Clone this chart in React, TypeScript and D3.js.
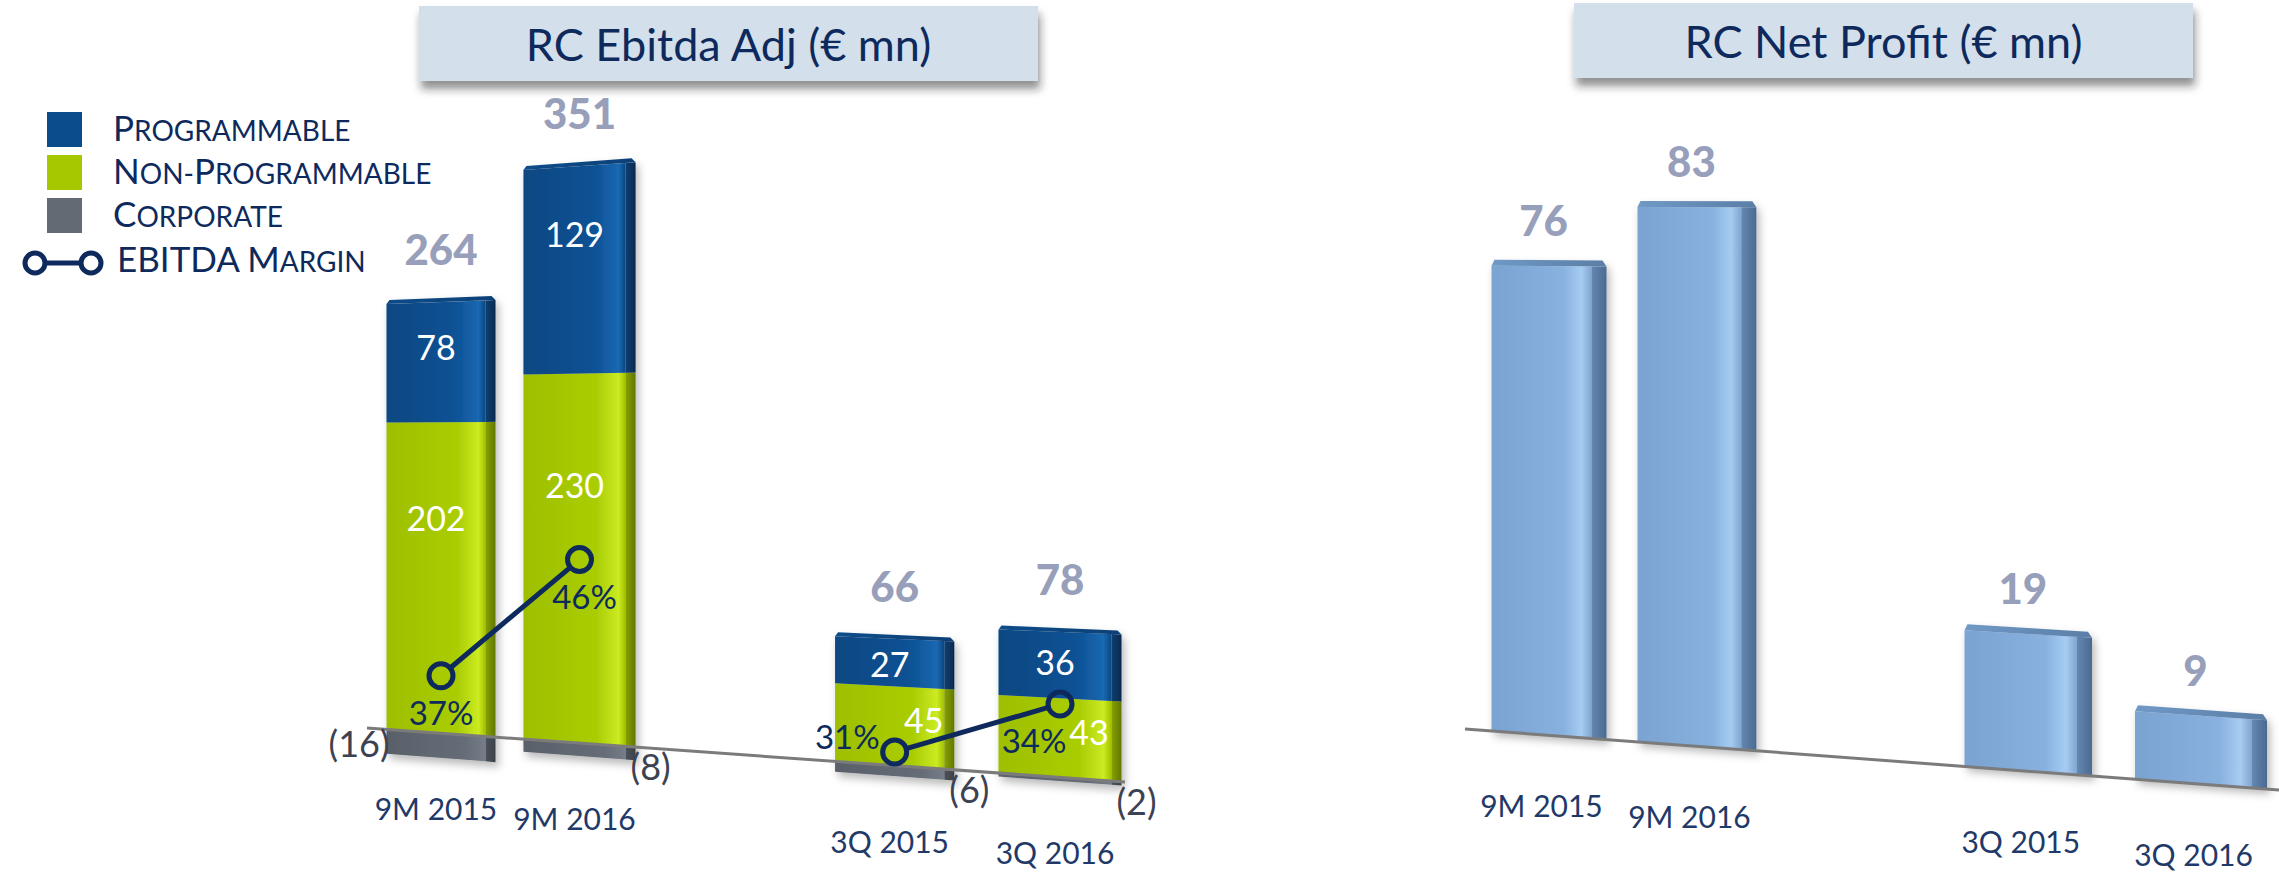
import React from 'react';
import * as d3 from 'd3';

// ---------- data ----------
const categories = ['9M 2015', '9M 2016', '3Q 2015', '3Q 2016'];
const periodGroups = ['9M', '9M', '3Q', '3Q'];
const slotIndex = [0, 1, 3, 4]; // slot 2 is the gap between the 9M and 3Q groups
const programmable = [78, 129, 27, 36];
const nonProgrammable = [202, 230, 45, 43];
const corporate = [-16, -8, -6, -2];
const ebitdaTotals = [264, 351, 66, 78];
const ebitdaMargin = [37, 46, 31, 34];
const netProfit = [76, 83, 19, 9];
const legendItems = ['Programmable', 'Non-Programmable', 'Corporate'];
const legendLineLabel = 'EBITDA Margin';
const titles = ['RC Ebitda Adj (€ mn)', 'RC Net Profit (€ mn)'];

const COL = {
  blue: '#0b4d8c',
  green: '#a6c800',
  grey: '#646a73',
  navy: '#0e2a5c',
  total: '#989fba',
  corpText: '#3d4252',
  axis: '#7b7b7b',
  titleBg: '#d3dfeb',
};

const FONT = "Lato, 'Noto Sans', 'DejaVu Sans', sans-serif";

type Sc = {
  x: d3.ScalePower<number, number>;
  width: d3.ScaleLinear<number, number>;
  base: d3.ScaleLinear<number, number>;
  unit: d3.ScaleLinear<number, number>;
  persp: number;
  side: number;
  top: number;
};

const leftSc: Sc = {
  x: d3.scalePow().exponent(1.08).domain([0, 4]).range([441, 1060]),
  width: d3.scaleLinear().domain([441, 1060]).range([109, 123]),
  base: d3.scaleLinear().domain([367, 1125]).range([728, 782]),
  unit: d3.scaleLinear().domain([441, 1060]).range([1.54, 1.84]),
  persp: 0.8,
  side: 10,
  top: 4,
};

const rightSc: Sc = {
  x: d3.scalePow().exponent(1.07).domain([0, 4]).range([1549, 2201]),
  width: d3.scaleLinear().domain([1549, 2201]).range([115, 132]),
  base: d3.scaleLinear().domain([1465, 2279]).range([729, 790]),
  unit: d3.scaleLinear().domain([1543, 2200]).range([6.16, 7.6]),
  persp: 0.4,
  side: 15,
  top: 6,
};

// secondary (margin %) axes, one per period group
const marginScales: Record<string, d3.ScaleLinear<number, number>> = {
  '9M': d3.scaleLinear().domain([0, 50]).range([1153, 508]),
  '3Q': d3.scaleLinear().domain([0, 50]).range([1248, 448]),
};

const geom = (s: Sc, i: number) => {
  const cx = s.x(slotIndex[i]);
  const w = s.width(cx);
  const xl = cx - w / 2;
  const xr = cx + w / 2;
  const xs = xr - s.side;
  return { cx, xl, xr, xs, fc: (xl + xs) / 2 };
};
// projected y of value v at screen x, for the bar centred at cx
const yAt = (s: Sc, cx: number, x: number, v: number) => s.base(x) - s.unit(cx + s.persp * (x - cx)) * v;

const lineGen = d3.line();
const quad = (s: Sc, cx: number, x0: number, x1: number, v0: number, v1: number) =>
  lineGen([
    [x0, yAt(s, cx, x0, v0)],
    [x1, yAt(s, cx, x1, v0)],
    [x1, yAt(s, cx, x1, v1)],
    [x0, yAt(s, cx, x0, v1)],
  ]) + 'Z';
const topCap = (s: Sc, cx: number, xl: number, xr: number, v: number) =>
  lineGen([
    [xl, yAt(s, cx, xl, v)],
    [xl + 3, yAt(s, cx, xl, v) - s.top],
    [xr - 4, yAt(s, cx, xr, v) - s.top],
    [xr, yAt(s, cx, xr, v)],
  ]) + 'Z';

function Segment({ s, i, v0, v1, kind, cap }: any) {
  const g = geom(s, i);
  return (
    <g>
      <path d={quad(s, g.cx, g.xl, g.xs, v0, v1)} fill={`url(#${kind}Front)`} />
      <path d={quad(s, g.cx, g.xs, g.xr, v0, v1)} fill={`url(#${kind}Side)`} />
      {cap && <path d={topCap(s, g.cx, g.xl, g.xr, v1)} fill={`url(#${kind}Top)`} />}
    </g>
  );
}

function SmallCaps({ x, y, text, big, small }: any) {
  const parts = Array.from(text as string).map((ch, k) => {
    const isUpper = ch !== ch.toLowerCase();
    return (
      <tspan key={k} fontSize={isUpper ? big : small}>
        {ch.toUpperCase()}
      </tspan>
    );
  });
  return (
    <text x={x} y={y} fill={COL.navy}>
      {parts}
    </text>
  );
}

function TitleBox({ x, y, w, h, text }: any) {
  return (
    <g>
      <rect x={x} y={y} width={w} height={h} fill={COL.titleBg} filter="url(#titleShadow)" />
      <text x={x + w / 2} y={y + h - 20} textAnchor="middle" fontSize={45} fill={COL.navy} fontFamily={FONT}>
        {text}
      </text>
    </g>
  );
}

function grad(id: string, stops: [number, string][]) {
  return (
    <linearGradient id={id} x1="0" y1="0" x2="1" y2="0">
      {stops.map(([o, c], k) => (
        <stop key={k} offset={o} stopColor={c} />
      ))}
    </linearGradient>
  );
}

export default function App() {
  const W = 2279;
  const H = 878;
  const r = 12;

  // margin points
  const mPts = ebitdaMargin.map((m, i) => [geom(leftSc, i).cx, marginScales[periodGroups[i]](m)] as [number, number]);
  const mSegs: [number, number, number, number][] = [];
  for (let i = 1; i < mPts.length; i++) {
    if (periodGroups[i] !== periodGroups[i - 1]) continue;
    const [x0, y0] = mPts[i - 1];
    const [x1, y1] = mPts[i];
    const d = Math.hypot(x1 - x0, y1 - y0);
    const ux = (x1 - x0) / d;
    const uy = (y1 - y0) / d;
    mSegs.push([x0 + ux * r, y0 + uy * r, x1 - ux * r, y1 - uy * r]);
  }

  const lDom = leftSc.base.domain();
  const rDom = rightSc.base.domain();

  return (
    <svg width={W} height={H} style={{ position: 'absolute', left: 0, top: 0, background: '#fff' }} fontFamily={FONT}>
      <defs>
        <filter id="titleShadow" x="-5%" y="-20%" width="110%" height="160%">
          <feDropShadow dx="2" dy="8" stdDeviation="4" floodColor="#222" floodOpacity="0.5" />
        </filter>
        <filter id="barShadow" x="-20%" y="-10%" width="140%" height="130%">
          <feDropShadow dx="3" dy="5" stdDeviation="4" floodColor="#000" floodOpacity="0.28" />
        </filter>
        {grad('blueFront', [[0, '#0a4781'], [0.7, '#0d5295'], [0.93, '#1a68b2'], [1, '#0a4680']])}
        {grad('blueSide', [[0, '#0a3f72'], [1, '#062a4f']])}
        {grad('blueTop', [[0, '#0b4c8a'], [1, '#0a4077']])}
        {grad('greenFront', [[0, '#9dbf00'], [0.72, '#aacd05'], [0.93, '#cbeb22'], [1, '#a2c000']])}
        {grad('greenSide', [[0, '#86a200'], [1, '#627700']])}
        {grad('greenTop', [[0, '#b4d40a'], [1, '#9ab400']])}
        {grad('greyFront', [[0, '#596069'], [0.8, '#666d78'], [1, '#757d89']])}
        {grad('greySide', [[0, '#4c525a'], [1, '#3c4148']])}
        {grad('greyTop', [[0, '#666d78'], [1, '#555b63']])}
        {grad('lightFront', [[0, '#7ba3d2'], [0.72, '#88b1df'], [0.9, '#a6ccf2'], [1, '#80a6d0']])}
        {grad('lightSide', [[0, '#6488b2'], [1, '#4a6a91']])}
        {grad('lightTop', [[0, '#7099c6'], [1, '#5a7ea6']])}
      </defs>

      {/* titles */}
      <TitleBox x={419} y={6} w={619} h={75} text={titles[0]} />
      <TitleBox x={1574} y={3} w={619} h={75} text={titles[1]} />

      {/* legend */}
      <g>
        {legendItems.map((t, k) => (
          <g key={t}>
            <rect x={47} y={112 + k * 43} width={35} height={35} fill={[COL.blue, COL.green, COL.grey][k]} />
            <SmallCaps x={113} y={141 + k * 43} text={t} big={35} small={28} />
          </g>
        ))}
        <line x1={45} x2={81} y1={263} y2={263} stroke={COL.navy} strokeWidth={5} />
        <circle cx={35} cy={263} r={10} fill="#fff" stroke={COL.navy} strokeWidth={5} />
        <circle cx={91} cy={263} r={10} fill="#fff" stroke={COL.navy} strokeWidth={5} />
        <SmallCaps x={117} y={272} text={legendLineLabel} big={35} small={28} />
      </g>

      {/* ---------- left chart: EBITDA ---------- */}
      <g filter="url(#barShadow)">
        {categories.map((c, i) => (
          <g key={c}>
            <Segment s={leftSc} i={i} v0={corporate[i]} v1={0} kind="grey" cap={false} />
            <Segment s={leftSc} i={i} v0={0} v1={nonProgrammable[i]} kind="green" cap={false} />
            <Segment
              s={leftSc}
              i={i}
              v0={nonProgrammable[i]}
              v1={nonProgrammable[i] + programmable[i]}
              kind="blue"
              cap={true}
            />
          </g>
        ))}
      </g>
      <line
        x1={lDom[0]}
        y1={leftSc.base(lDom[0])}
        x2={lDom[1]}
        y2={leftSc.base(lDom[1])}
        stroke={COL.axis}
        strokeWidth={3}
      />

      {categories.map((c, i) => {
        const g = geom(leftSc, i);
        const k = leftSc.unit(g.cx);
        const np = nonProgrammable[i];
        const tot = np + programmable[i];
        const topY = yAt(leftSc, g.cx, g.cx, tot);
        const midY = yAt(leftSc, g.cx, g.cx, np);
        const greenLab = 25 + 0.27 * k * np;
        const blueLab = 25 + 0.27 * k * programmable[i];
        const shiftGreen = periodGroups[i] === '3Q' ? 34 : 0;
        const firstBar = i === 0;
        return (
          <g key={c}>
            <text x={g.cx} y={topY - 37} textAnchor="middle" fontSize={42} fontWeight={900} fill={COL.total}>
              {ebitdaTotals[i]}
            </text>
            <text x={g.fc} y={topY + blueLab} textAnchor="middle" fontSize={34} fill="#fff">
              {programmable[i]}
            </text>
            <text x={g.fc + shiftGreen} y={midY + greenLab} textAnchor="middle" fontSize={34} fill="#fff">
              {np}
            </text>
            <text
              x={firstBar ? g.xl + 3 : g.xr - 5}
              y={firstBar ? leftSc.base(g.xl) + 28 : leftSc.base(g.xr) + 33}
              textAnchor={firstBar ? 'end' : 'start'}
              fontSize={36}
              fill={COL.corpText}
            >
              {`(${Math.abs(corporate[i])})`}
            </text>
            <text x={g.fc} y={leftSc.base(g.cx) + 87} textAnchor="middle" fontSize={30} fill="#1f3a68">
              {c}
            </text>
          </g>
        );
      })}

      {/* margin line */}
      {mSegs.map((s, k) => (
        <line key={k} x1={s[0]} y1={s[1]} x2={s[2]} y2={s[3]} stroke={COL.navy} strokeWidth={5} />
      ))}
      {mPts.map(([x, y], i) => {
        const is3Q = periodGroups[i] === '3Q';
        const leftSide = is3Q && i > 0 && periodGroups[i - 1] !== '3Q';
        const lx = leftSide ? x - 15 : is3Q ? x - 26 : x + (i === 1 ? 5 : 0);
        const ly = leftSide ? y - 3 : y + 49;
        return (
          <g key={i}>
            <circle cx={x} cy={y} r={r} fill="none" stroke={COL.navy} strokeWidth={5} />
            <text x={lx} y={ly} textAnchor={leftSide ? 'end' : 'middle'} fontSize={33} fill={COL.navy}>
              {`${ebitdaMargin[i]}%`}
            </text>
          </g>
        );
      })}

      {/* ---------- right chart: Net profit ---------- */}
      <g filter="url(#barShadow)">
        {categories.map((c, i) => (
          <Segment key={c} s={rightSc} i={i} v0={0} v1={netProfit[i]} kind="light" cap={true} />
        ))}
      </g>
      <line
        x1={rDom[0]}
        y1={rightSc.base(rDom[0])}
        x2={rDom[1]}
        y2={rightSc.base(rDom[1])}
        stroke={COL.axis}
        strokeWidth={3}
      />
      {categories.map((c, i) => {
        const g = geom(rightSc, i);
        const topY = yAt(rightSc, g.cx, g.cx, netProfit[i]);
        return (
          <g key={c}>
            <text x={g.fc + 2} y={topY - 30} textAnchor="middle" fontSize={42} fontWeight={900} fill={COL.total}>
              {netProfit[i]}
            </text>
            <text x={g.fc} y={rightSc.base(g.cx) + 82} textAnchor="middle" fontSize={30} fill="#1f3a68">
              {c}
            </text>
          </g>
        );
      })}
    </svg>
  );
}
